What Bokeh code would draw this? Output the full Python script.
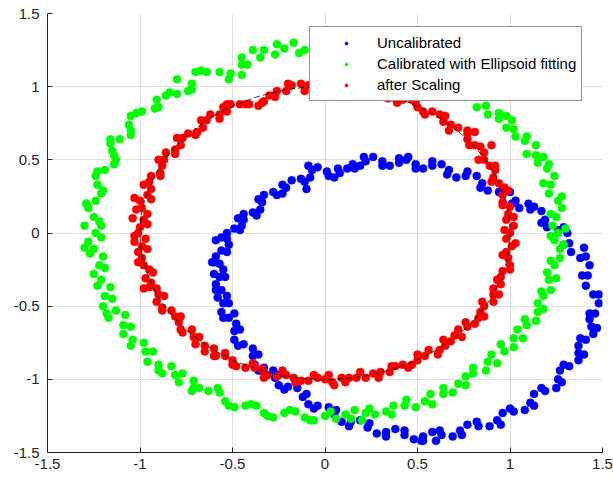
from bokeh.plotting import figure
from bokeh.models import Legend, LegendItem, Range1d, FixedTicker, CustomJSTickFormatter
from bokeh.embed import file_html
from bokeh.resources import INLINE

# ---- data ----
# "Uncalibrated" (blue) points
uncal_pts = [
    (1.46,-0.55),(1.45,-0.42),(1.42,-0.29),(1.38,-0.17),(1.32,-0.07),(1.26,0.02),(1.19,0.09),(1.11,0.16),
    (1.03,0.22),(0.94,0.28),(0.85,0.34),(0.76,0.39),(0.67,0.43),(0.58,0.46),(0.49,0.47),(0.40,0.48),
    (0.31,0.49),(0.22,0.49),(0.15,0.47),(0.08,0.41),(0.01,0.42),(-0.07,0.43),(-0.13,0.37),(-0.21,0.31),
    (-0.28,0.28),(-0.34,0.21),(-0.39,0.14),(-0.44,0.09),(-0.49,0.03),(-0.53,-0.04),(-0.56,-0.12),(-0.57,-0.21),
    (-0.57,-0.30),(-0.56,-0.39),(-0.55,-0.48),(-0.52,-0.58),(-0.49,-0.67),(-0.44,-0.76),(-0.39,-0.84),(-0.33,-0.92),
    (-0.27,-0.99),(-0.20,-1.05),(-0.12,-1.12),(-0.04,-1.18),(0.05,-1.24),(0.14,-1.29),(0.23,-1.33),(0.33,-1.36),
    (0.43,-1.38),(0.53,-1.39),(0.63,-1.38),(0.73,-1.35),(0.83,-1.32),(0.93,-1.28),(1.02,-1.22),(1.11,-1.16),
    (1.19,-1.08),(1.26,-1.00),(1.32,-0.91),(1.37,-0.82),(1.41,-0.73),(1.44,-0.64),
    (1.48,-0.48),(1.41,-0.36),(1.43,-0.22),(1.33,-0.13),(1.31,0.00),(1.20,0.04),(1.17,0.15),(1.05,0.17),
    (1.00,0.28),(0.88,0.29),(0.82,0.39),(0.71,0.38),(0.63,0.47),(0.53,0.44),(0.44,0.50),(0.35,0.46),
    (0.26,0.52),(0.19,0.46),(0.12,0.44),(0.05,0.38),(-0.04,0.45),(-0.08,0.38),(-0.18,0.36),(-0.23,0.27),
    (-0.33,0.26),(-0.35,0.16),(-0.44,0.13),(-0.45,0.05),(-0.53,0.00),(-0.52,-0.08),(-0.59,-0.16),(-0.55,-0.25),
    (-0.59,-0.35),(-0.53,-0.43),(-0.56,-0.54),(-0.48,-0.62),(-0.49,-0.73),(-0.39,-0.79),(-0.38,-0.90),(-0.28,-0.94),
    (-0.25,-1.04),(-0.15,-1.06),(-0.09,-1.17),(0.02,-1.19),(0.09,-1.29),(0.19,-1.28),(0.28,-1.37),(0.38,-1.34),
    (0.48,-1.41),(0.58,-1.36),(0.69,-1.39),(0.77,-1.31),(0.89,-1.32),(0.96,-1.23),(1.08,-1.21),(1.13,-1.10),
    (1.25,-1.06),(1.27,-0.94),(1.37,-0.87),(1.37,-0.77),(1.45,-0.69),(1.43,-0.59),
    (1.43,-0.55),(1.48,-0.42),(1.39,-0.29),(1.41,-0.16),(1.29,-0.08),(1.29,0.04),(1.17,0.07),(1.13,0.18),
    (1.01,0.20),(0.96,0.30),(0.84,0.31),(0.77,0.42),(0.66,0.40),(0.58,0.49),(0.49,0.44),(0.40,0.51),
    (0.31,0.46),(0.21,0.52),(0.16,0.44),(0.07,0.44),(0.02,0.39),(-0.09,0.46),(-0.11,0.35),(-0.23,0.33),
    (-0.26,0.26),(-0.36,0.23),(-0.37,0.12),(-0.47,0.10),(-0.46,0.02),(-0.56,-0.03),(-0.53,-0.13),(-0.60,-0.20),
    (-0.54,-0.30),(-0.59,-0.39),(-0.52,-0.48),(-0.55,-0.58),(-0.46,-0.66),(-0.47,-0.77),(-0.36,-0.83),(-0.36,-0.94),
    (-0.25,-0.97),(-0.22,-1.07),(-0.10,-1.10),(-0.06,-1.20),(0.06,-1.21),(0.13,-1.32),(0.24,-1.30),(0.33,-1.39),
    (0.43,-1.35),(0.53,-1.42),(0.62,-1.35),(0.74,-1.38),(0.82,-1.29),(0.95,-1.31),(1.00,-1.20),(1.13,-1.18),
    (1.17,-1.06),(1.28,-1.02),(1.29,-0.90),(1.40,-0.83),(1.38,-0.72),(1.47,-0.65),
    (-0.61,-0.20),(-0.60,-0.28),(-0.59,-0.05),(-0.58,-0.44),(-0.49,-0.55),(1.40,-0.10),(1.10,0.20),
    (0.52,-1.42),(0.60,-1.42),(-0.10,0.30),(0.45,0.52),
]
# "Calibrated with Ellipsoid fitting" (green) points
cal_pts = [
    (1.26,0.00),(1.25,0.11),(1.26,0.22),(1.22,0.33),(1.20,0.44),(1.14,0.53),(1.08,0.63),(1.02,0.71),
    (0.94,0.78),(0.87,0.87),(0.81,0.97),(0.72,1.02),(0.64,1.10),(0.53,1.14),(0.43,1.18),(0.33,1.23),
    (0.22,1.24),(0.11,1.24),(0.00,1.26),(-0.11,1.25),(-0.22,1.26),(-0.33,1.25),(-0.42,1.15),(-0.51,1.09),
    (-0.64,1.10),(-0.72,1.02),(-0.80,0.95),(-0.91,0.91),(-0.99,0.83),(-1.06,0.74),(-1.11,0.64),(-1.14,0.53),
    (-1.19,0.43),(-1.23,0.33),(-1.24,0.22),(-1.25,0.11),(-1.24,0.00),(-1.25,-0.11),(-1.22,-0.22),(-1.21,-0.32),
    (-1.19,-0.43),(-1.13,-0.53),(-1.09,-0.63),(-1.04,-0.73),(-0.97,-0.81),(-0.90,-0.90),(-0.81,-0.97),(-0.71,-1.01),
    (-0.63,-1.08),(-0.54,-1.15),(-0.43,-1.18),(-0.33,-1.23),(-0.22,-1.23),(-0.11,-1.26),(0.00,-1.25),(0.11,-1.24),
    (0.22,-1.23),(0.33,-1.22),(0.43,-1.18),(0.54,-1.15),(0.64,-1.10),(0.72,-1.03),(0.80,-0.96),(0.88,-0.88),
    (0.97,-0.81),(1.02,-0.72),(1.09,-0.63),(1.15,-0.54),(1.18,-0.43),(1.21,-0.32),(1.24,-0.22),(1.27,-0.11),
    (1.23,0.05),(1.28,0.17),(1.21,0.27),(1.24,0.39),(1.15,0.48),(1.14,0.60),(1.03,0.66),(1.01,0.77),
    (0.88,0.81),(0.86,0.94),(0.75,0.98),(0.69,1.09),(0.57,1.10),(0.49,1.19),(0.37,1.17),(0.28,1.26),
    (0.16,1.22),(0.06,1.28),(-0.05,1.23),(-0.17,1.30),(-0.27,1.22),(-0.39,1.25),(-0.45,1.08),(-0.57,1.10),
    (-0.70,1.10),(-0.74,0.97),(-0.86,0.94),(-0.92,0.85),(-1.05,0.80),(-1.05,0.67),(-1.16,0.61),(-1.14,0.47),
    (-1.24,0.39),(-1.21,0.27),(-1.28,0.17),(-1.21,0.05),(-1.28,-0.06),(-1.20,-0.16),(-1.25,-0.28),(-1.16,-0.37),
    (-1.20,-0.50),(-1.08,-0.56),(-1.09,-0.69),(-0.98,-0.75),(-0.96,-0.88),(-0.83,-0.91),(-0.79,-1.02),(-0.68,-1.06),
    (-0.57,-1.09),(-0.49,-1.19),(-0.37,-1.18),(-0.28,-1.26),(-0.16,-1.22),(-0.06,-1.28),(0.06,-1.27),(0.16,-1.21),
    (0.27,-1.24),(0.37,-1.18),(0.49,-1.19),(0.57,-1.10),(0.69,-1.09),(0.76,-0.98),(0.87,-0.94),(0.90,-0.83),
    (1.02,-0.78),(1.04,-0.66),(1.14,-0.60),(1.15,-0.48),(1.22,-0.39),(1.20,-0.27),(1.27,-0.17),(1.24,-0.05),
    (1.30,0.03),(1.22,0.13),(1.28,0.25),(1.18,0.34),(1.21,0.47),(1.09,0.54),(1.09,0.66),(0.98,0.72),
    (0.94,0.82),(0.82,0.86),(0.81,1.01),(0.68,1.01),(0.62,1.13),(0.49,1.12),(0.42,1.22),(0.29,1.19),
    (0.20,1.27),(0.08,1.22),(-0.03,1.29),(-0.14,1.23),(-0.26,1.29),(-0.35,1.20),(-0.45,1.15),(-0.52,1.05),
    (-0.67,1.11),(-0.72,0.98),(-0.84,0.96),(-0.90,0.86),(-1.02,0.82),(-1.05,0.70),(-1.16,0.64),(-1.13,0.50),
    (-1.23,0.42),(-1.20,0.29),(-1.29,0.20),(-1.22,0.08),(-1.21,-0.03),(-1.27,-0.14),(-1.19,-0.24),(-1.23,-0.36),
    (-1.15,-0.45),(-1.17,-0.58),(-1.05,-0.64),(-1.05,-0.77),(-0.93,-0.81),(-0.90,-0.94),(-0.77,-0.96),(-0.71,-1.06),
    (-0.58,-1.06),(-0.52,-1.18),(-0.40,-1.17),(-0.31,-1.25),(-0.19,-1.21),(-0.08,-1.28),(0.03,-1.22),(0.14,-1.27),
    (0.24,-1.20),(0.36,-1.24),(0.44,-1.14),(0.58,-1.17),(0.64,-1.06),(0.76,-1.04),(0.80,-0.92),(0.93,-0.89),
    (0.95,-0.76),(1.07,-0.72),(1.08,-0.59),(1.18,-0.52),(1.17,-0.40),(1.25,-0.31),(1.22,-0.19),(1.29,-0.08),
    (-1.30,0.05),(-1.30,-0.10),(-1.29,0.20),(-1.15,0.56),(-1.18,-0.55),(-0.88,-0.96),(-0.72,-1.08),
    (0.98,0.80),(1.18,0.52),(-0.80,1.05),(-0.45,1.20),(0.20,-1.28),(1.22,-0.02),
]
# "after Scaling" (red) points
scaled_pts = [
    (1.00,0.00),(0.98,0.09),(1.00,0.18),(0.96,0.26),(0.94,0.34),(0.92,0.43),(0.86,0.50),(0.84,0.59),
    (0.77,0.64),(0.72,0.72),(0.64,0.76),(0.58,0.83),(0.50,0.86),(0.42,0.91),(0.34,0.92),(0.26,0.97),
    (0.17,0.98),(0.09,1.01),(0.00,1.00),(-0.09,1.01),(-0.18,1.01),(-0.26,0.97),(-0.33,0.90),(-0.41,0.88),
    (-0.51,0.88),(-0.57,0.81),(-0.64,0.77),(-0.69,0.69),(-0.77,0.65),(-0.81,0.57),(-0.87,0.50),(-0.89,0.41),
    (-0.95,0.35),(-0.96,0.26),(-0.99,0.17),(-0.98,0.09),(-1.01,0.00),(-0.99,-0.09),(-0.99,-0.17),(-0.95,-0.25),
    (-0.94,-0.34),(-0.90,-0.42),(-0.88,-0.51),(-0.81,-0.57),(-0.78,-0.66),(-0.71,-0.71),(-0.65,-0.77),(-0.59,-0.84),
    (-0.50,-0.87),(-0.43,-0.92),(-0.34,-0.93),(-0.26,-0.98),(-0.17,-0.99),(-0.09,-1.01),(0.00,-1.00),(0.09,-0.99),
    (0.17,-0.99),(0.26,-0.96),(0.35,-0.95),(0.42,-0.90),(0.50,-0.87),(0.56,-0.80),(0.65,-0.77),(0.70,-0.70),
    (0.77,-0.64),(0.83,-0.58),(0.86,-0.50),(0.91,-0.42),(0.95,-0.35),(0.96,-0.26),(0.99,-0.17),(1.01,-0.09),
    (1.02,0.05),(0.99,0.13),(0.96,0.21),(0.97,0.31),(0.91,0.38),(0.89,0.46),(0.86,0.55),(0.78,0.60),
    (0.77,0.70),(0.68,0.74),(0.62,0.81),(0.53,0.83),(0.47,0.91),(0.38,0.92),(0.30,0.96),(0.21,0.96),
    (0.13,0.99),(0.04,0.98),(-0.04,0.99),(-0.13,1.02),(-0.21,0.97),(-0.30,0.94),(-0.36,0.87),(-0.46,0.88),
    (-0.53,0.83),(-0.62,0.81),(-0.66,0.72),(-0.74,0.68),(-0.78,0.60),(-0.86,0.55),(-0.88,0.46),(-0.94,0.39),
    (-0.94,0.30),(-1.00,0.22),(-0.96,0.13),(-1.00,0.04),(-0.97,-0.04),(-1.01,-0.13),(-0.98,-0.22),(-0.97,-0.31),
    (-0.91,-0.38),(-0.91,-0.47),(-0.83,-0.53),(-0.79,-0.61),(-0.72,-0.66),(-0.70,-0.76),(-0.60,-0.79),(-0.54,-0.84),
    (-0.48,-0.91),(-0.38,-0.92),(-0.31,-0.97),(-0.21,-0.97),(-0.13,-1.01),(-0.04,-0.99),(0.04,-1.02),(0.13,-0.99),
    (0.22,-0.99),(0.30,-0.95),(0.38,-0.91),(0.47,-0.90),(0.54,-0.84),(0.62,-0.80),(0.68,-0.74),(0.72,-0.66),
    (0.81,-0.62),(0.84,-0.54),(0.91,-0.47),(0.91,-0.38),(0.95,-0.30),(1.00,-0.22),(0.98,-0.13),(0.98,-0.04),
    (0.97,0.02),(1.02,0.11),(0.96,0.19),(0.99,0.29),(0.90,0.35),(0.92,0.46),(0.83,0.50),(0.81,0.60),
    (0.77,0.68),(0.67,0.70),(0.65,0.80),(0.54,0.81),(0.49,0.89),(0.39,0.89),(0.33,0.97),(0.23,0.94),
    (0.16,1.02),(0.06,0.98),(-0.02,1.03),(-0.11,0.97),(-0.20,1.02),(-0.27,0.93),(-0.34,0.89),(-0.43,0.88),
    (-0.53,0.88),(-0.57,0.78),(-0.67,0.77),(-0.70,0.67),(-0.80,0.65),(-0.81,0.54),(-0.90,0.50),(-0.89,0.39),
    (-0.98,0.33),(-0.94,0.23),(-1.02,0.16),(-0.96,0.06),(-1.03,-0.02),(-0.96,-0.11),(-1.01,-0.20),(-0.93,-0.27),
    (-0.95,-0.37),(-0.87,-0.43),(-0.88,-0.53),(-0.78,-0.57),(-0.77,-0.68),(-0.68,-0.71),(-0.65,-0.81),(-0.54,-0.82),
    (-0.50,-0.90),(-0.39,-0.89),(-0.33,-0.98),(-0.23,-0.94),(-0.16,-1.02),(-0.06,-0.97),(0.02,-0.97),(0.11,-1.02),
    (0.19,-0.95),(0.29,-0.99),(0.36,-0.91),(0.45,-0.92),(0.50,-0.83),(0.61,-0.83),(0.64,-0.73),(0.74,-0.71),
    (0.76,-0.61),(0.86,-0.57),(0.85,-0.47),(0.94,-0.42),(0.93,-0.32),(1.00,-0.25),(0.96,-0.15),(1.03,-0.07),
    (-1.04,0.10),(-1.03,-0.06),(-1.03,0.24),(0.90,0.60),(0.81,0.69),(-0.60,-0.84),(-0.33,-0.99),
    (0.05,-1.04),(-0.98,-0.38),(-0.55,0.86),
]
# fitted unit circle (black dashed)
circle_x = [0.0]
circle_y = [0.0]
circle_d = [2.0]

ticks = [-1.5, -1, -0.5, 0, 0.5, 1, 1.5]
labels = ["Uncalibrated", "Calibrated with Ellipsoid fitting", "after Scaling"]
colors = ["#0000ff", "#00ff00", "#ff0000"]

FONT = "Liberation Sans"
INK = "#262626"

p = figure(width=613, height=480, output_backend="svg", toolbar_location=None,
           x_range=Range1d(-1.5, 1.5), y_range=Range1d(-1.5, 1.5),
           min_border_left=47, min_border_right=11, min_border_top=13, min_border_bottom=28,
           background_fill_color="white", border_fill_color="white")
p.outline_line_color = None

renderers = []
for pts, c in zip([uncal_pts, cal_pts, scaled_pts], colors):
    xs = [a for a, b in pts]
    ys = [b for a, b in pts]
    r = p.scatter(xs, ys, size=8, marker="circle", fill_color=c, line_color=c, line_width=0.5)
    renderers.append(r)

p.ellipse(x=circle_x, y=circle_y, width=circle_d, height=circle_d, fill_color=None,
          line_color="black", line_width=0.8, line_dash="6 3")

for ax in (p.xaxis, p.yaxis):
    ax.ticker = FixedTicker(ticks=ticks)
    ax.formatter = CustomJSTickFormatter(code="return tick.toString();")
    ax.major_tick_in = 5
    ax.major_tick_out = 0
    ax.minor_tick_line_color = None
    ax.axis_line_color = INK
    ax.major_tick_line_color = INK
    ax.major_label_text_font = FONT
    ax.major_label_text_font_size = "15px"
    ax.major_label_text_color = INK
p.xaxis.major_label_standoff = 6
p.yaxis.major_label_standoff = 8

p.grid.grid_line_color = INK
p.grid.grid_line_alpha = 0.15
p.grid.grid_line_width = 1

legend = Legend(items=[LegendItem(label=l, renderers=[r]) for l, r in zip(labels, renderers)],
                location=(262, 351))
legend.border_line_color = INK
legend.border_line_width = 1
legend.background_fill_color = "white"
legend.background_fill_alpha = 1.0
legend.label_text_font = FONT
legend.label_text_font_size = "15px"
legend.label_text_color = "black"
legend.glyph_width = 62
legend.glyph_height = 8
legend.label_height = 21
legend.spacing = 0
legend.padding = 5
legend.margin = 0
legend.label_standoff = 0
p.add_layout(legend)

open("out.html", "w").write(file_html(p, INLINE))
